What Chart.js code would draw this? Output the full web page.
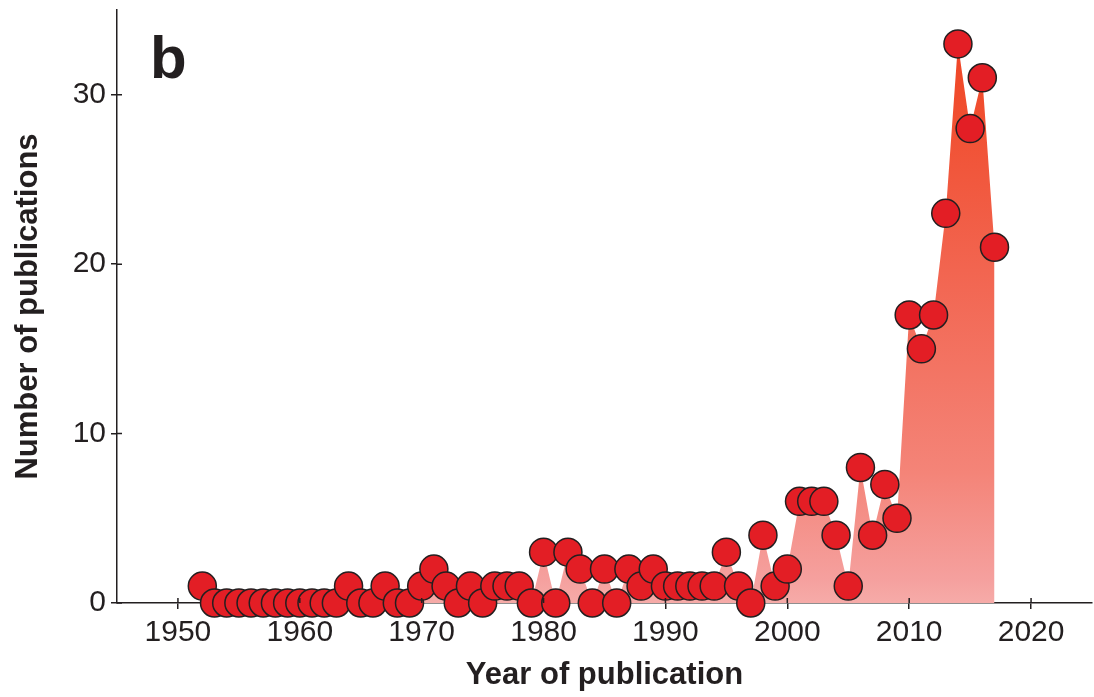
<!DOCTYPE html>
<html>
<head>
<meta charset="utf-8">
<title>Publications per year</title>
<script src="https://cdn.jsdelivr.net/npm/chart.js@4"></script>
<style>
  html, body { margin: 0; padding: 0; background: #ffffff; }
  canvas { display: block; }
</style>
</head>
<body>
<canvas id="chart" width="1094" height="697"></canvas>
<script>
// Publications per year of publication
const years = [
  1952, 1953, 1954, 1955, 1956, 1957, 1958, 1959, 1960, 1961, 1962, 1963,
  1964, 1965, 1966, 1967, 1968, 1969, 1970, 1971, 1972, 1973, 1974, 1975,
  1976, 1977, 1978, 1979, 1980, 1981, 1982, 1983, 1984, 1985, 1986, 1987,
  1988, 1989, 1990, 1991, 1992, 1993, 1994, 1995, 1996, 1997, 1998, 1999,
  2000, 2001, 2002, 2003, 2004, 2005, 2006, 2007, 2008, 2009, 2010, 2011,
  2012, 2013, 2014, 2015, 2016, 2017
];
const publications = [
  1, 0, 0, 0, 0, 0, 0, 0, 0, 0, 0, 0,
  1, 0, 0, 1, 0, 0, 1, 2, 1, 0, 1, 0,
  1, 1, 1, 0, 3, 0, 3, 2, 0, 2, 0, 2,
  1, 2, 1, 1, 1, 1, 1, 3, 1, 0, 4, 1,
  2, 6, 6, 6, 4, 1, 8, 4, 7, 5, 17, 15,
  17, 23, 33, 28, 31, 21
];
const xTicks = [1950, 1960, 1970, 1980, 1990, 2000, 2010, 2020];
const yTicks = [0, 10, 20, 30];

const ink = '#231f20';
const fontFamily = '"Liberation Sans", Arial, Helvetica, sans-serif';

// vertical fill gradient, stops given as fraction of the plot height (0 = bottom)
function areaGradient(ctx, area) {
  const g = ctx.createLinearGradient(0, area.bottom, 0, area.top);
  g.addColorStop(0.00, '#f6aba8');
  g.addColorStop(0.04, '#f5a09e');
  g.addColorStop(0.22, '#f48478');
  g.addColorStop(0.56, '#f26550');
  g.addColorStop(0.88, '#f04a2a');
  g.addColorStop(1.00, '#ef3d22');
  return g;
}

// tick marks that cross the axis line (inner half)
const innerTicks = {
  id: 'innerTicks',
  afterDraw(chart) {
    const { ctx, chartArea, scales } = chart;
    ctx.save();
    ctx.strokeStyle = ink;
    ctx.lineWidth = 1.5;
    ctx.beginPath();
    scales.x.ticks.forEach(t => {
      const px = scales.x.getPixelForValue(t.value);
      ctx.moveTo(px, chartArea.bottom);
      ctx.lineTo(px, chartArea.bottom - 5);
    });
    scales.y.ticks.forEach(t => {
      const py = scales.y.getPixelForValue(t.value);
      ctx.moveTo(chartArea.left, py);
      ctx.lineTo(chartArea.left + 5, py);
    });
    ctx.stroke();
    ctx.restore();
  }
};

// panel letter
const panelLetter = {
  id: 'panelLetter',
  afterDraw(chart) {
    const { ctx, chartArea } = chart;
    ctx.save();
    ctx.fillStyle = ink;
    ctx.font = 'bold 60px ' + fontFamily;
    ctx.textBaseline = 'alphabetic';
    ctx.textAlign = 'left';
    ctx.fillText('b', chartArea.left + 33, chartArea.top + 68);
    ctx.restore();
  }
};

new Chart(document.getElementById('chart'), {
  type: 'line',
  data: {
    datasets: [{
      data: years.map((y, i) => ({ x: y, y: publications[i] })),
      fill: 'origin',
      backgroundColor: (c) => {
        const area = c.chart.chartArea;
        if (!area) return '#f4a9a4';
        return areaGradient(c.chart.ctx, area);
      },
      borderWidth: 0,
      borderColor: 'rgba(0,0,0,0)',
      tension: 0,
      clip: false,
      pointRadius: 14,
      pointHoverRadius: 14,
      pointBackgroundColor: '#e31e25',
      pointBorderColor: ink,
      pointBorderWidth: 1.5
    }]
  },
  options: {
    responsive: false,
    animation: false,
    devicePixelRatio: 1,
    layout: { autoPadding: false, padding: { top: 10, right: 2, left: 0, bottom: 0 } },
    plugins: {
      legend: { display: false },
      tooltip: { enabled: false }
    },
    scales: {
      x: {
        type: 'linear',
        min: 1945,
        max: 2025,
        afterBuildTicks(scale) {
          scale.ticks = xTicks.map(v => ({ value: v }));
        },
        afterFit(scale) {
          scale.height = 94;
          scale.paddingLeft = 0;
          scale.paddingRight = 0;
        },
        grid: {
          drawOnChartArea: false,
          drawTicks: true,
          tickLength: 6,
          color: ink,
          lineWidth: 1.5
        },
        border: { display: true, color: ink, width: 1.5 },
        ticks: {
          color: ink,
          font: { family: fontFamily, size: 30 },
          padding: 6,
          maxRotation: 0,
          callback: (v) => String(v)
        },
        title: {
          display: true,
          text: 'Year of publication',
          color: ink,
          font: { family: fontFamily, size: 31, weight: 'bold' },
          padding: { top: 0, bottom: 3 }
        }
      },
      y: {
        type: 'linear',
        min: 0,
        max: 35,
        afterBuildTicks(scale) {
          scale.ticks = yTicks.map(v => ({ value: v }));
        },
        afterFit(scale) {
          scale.width = 117;
          scale.paddingTop = 0;
          scale.paddingBottom = 0;
        },
        grid: {
          drawOnChartArea: false,
          drawTicks: true,
          tickLength: 6,
          color: ink,
          lineWidth: 1.5
        },
        border: { display: true, color: ink, width: 1.5 },
        ticks: {
          color: ink,
          font: { family: fontFamily, size: 30 },
          padding: 5,
          callback: (v) => String(v)
        },
        title: {
          display: true,
          text: 'Number of publications',
          color: ink,
          font: { family: fontFamily, size: 31, weight: 'bold' },
          padding: { top: 10, bottom: 0 }
        }
      }
    }
  },
  plugins: [innerTicks, panelLetter]
});
</script>
</body>
</html>
